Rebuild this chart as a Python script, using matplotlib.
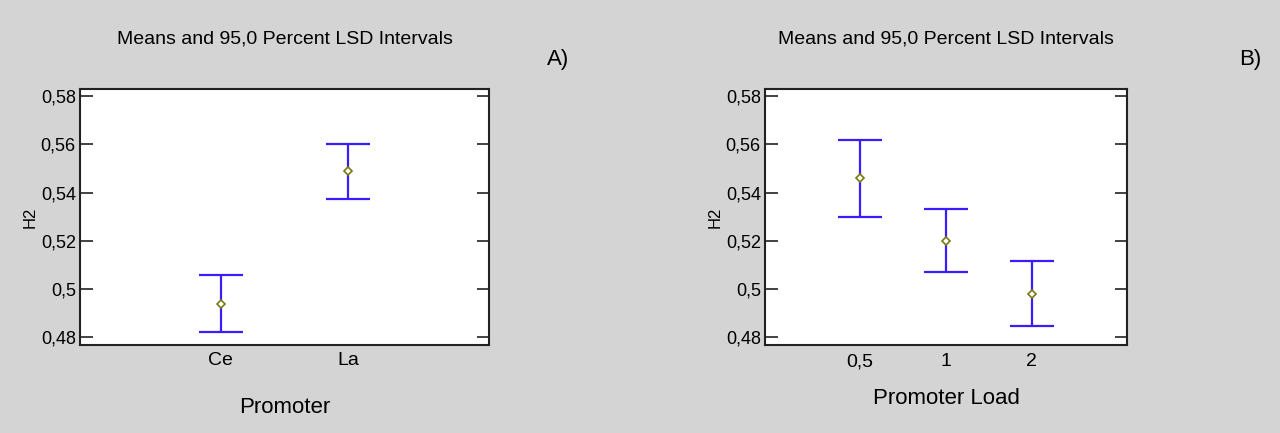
import matplotlib
matplotlib.use("Agg")
import matplotlib.pyplot as plt

# datos
promoter = ["Ce", "La"]
promoter_mean = [0.4939, 0.5488]
promoter_low = [0.4823, 0.5372]
promoter_high = [0.5057, 0.5600]

load = ["0,5", "1", "2"]
load_mean = [0.5462, 0.5201, 0.4980]
load_low = [0.5300, 0.5071, 0.4846]
load_high = [0.5618, 0.5330, 0.5115]

yticks = [0.48, 0.50, 0.52, 0.54, 0.56, 0.58]
ytick_labels = ["0,48", "0,5", "0,52", "0,54", "0,56", "0,58"]

fam = ["Liberation Sans", "DejaVu Sans"]
bg = "#d4d4d4"
blue = "#3a1cff"

fig = plt.figure(figsize=(12.8, 4.33), dpi=100, facecolor=bg)


def panel(rect, cats, mean, low, high, xlim, xlabel, letter, letter_x, tick_pad, label_pad):
    ax = fig.add_axes(rect)
    x = list(range(1, len(cats) + 1))
    err = [[m - l for m, l in zip(mean, low)], [h - m for m, h in zip(mean, high)]]
    ax.errorbar(x, mean, yerr=err, fmt="none", ecolor=blue, elinewidth=1.6,
                capsize=15.5, capthick=1.6)
    ax.plot(x, mean, linestyle="none", marker="D", markersize=4.5,
            markerfacecolor="white", markeredgecolor="#7a7a10", markeredgewidth=1.2)
    ax.set_xlim(*xlim)
    ax.set_ylim(0.4768, 0.5829)
    ax.set_yticks(yticks)
    ax.set_yticklabels(ytick_labels, family=fam, fontsize=13)
    ax.set_xticks(x)
    ax.set_xticklabels(cats, family=fam, fontsize=14)
    ax.tick_params(axis="y", direction="in", length=9, width=1.2, left=True, right=True,
                   pad=3, color="#222222")
    ax.tick_params(axis="x", length=0, pad=tick_pad)
    for s in ax.spines.values():
        s.set_linewidth(1.5)
        s.set_color("#222222")
    ax.set_ylabel("H2", fontsize=12, family=fam, labelpad=2)
    ax.set_xlabel(xlabel, fontsize=16, family=fam, labelpad=label_pad)
    ax.set_title("Means and 95,0 Percent LSD Intervals", fontsize=14, family=fam, pad=33)
    fig.text(letter_x, 1 - 60 / 433, letter, fontsize=16, ha="center", va="center", family=fam)
    return ax


W, H = 1280, 433
panel([80 / W, 1 - 345 / H, 409 / W, 256 / H], promoter, promoter_mean, promoter_low,
      promoter_high, (-0.1, 3.1), "Promoter", "A)", 558 / W, 5, 20)
panel([765 / W, 1 - 345 / H, 362 / W, 256 / H], load, load_mean, load_low,
      load_high, (-0.11, 4.11), "Promoter Load", "B)", 1250 / W, 6, 13)

fig.savefig("out.png", dpi=100, facecolor=bg)
